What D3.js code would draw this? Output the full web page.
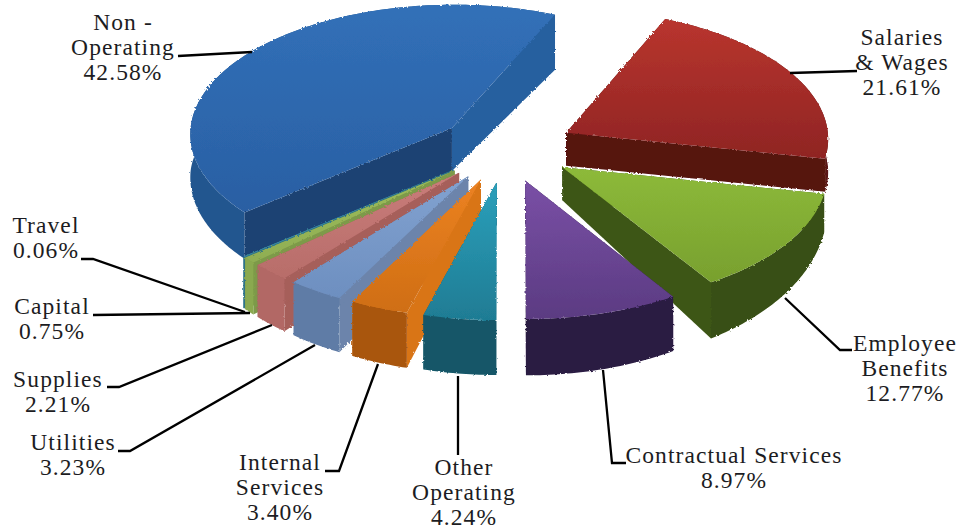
<!DOCTYPE html>
<html>
<head>
<meta charset="utf-8">
<script src="https://cdn.jsdelivr.net/npm/d3@7"></script>
<style>
    html, body { margin: 0; padding: 0; background: #fff; }
    svg { display: block; }
    text { font-family: "Liberation Serif", serif; font-size: 23.5px; letter-spacing: 1.1px; fill: #1c1c22; text-anchor: middle; }
</style>
</head>
<body>
<svg id="chart" width="960" height="529"></svg>
<script>
// Data, clockwise from the big blue slice
const categories = ["Non-Operating", "Salaries & Wages", "Employee Benefits", "Contractual Services", "Other Operating",
    "Internal Services", "Utilities", "Supplies", "Capital", "Travel"];
const values = [42.58, 21.61, 12.77, 8.97, 4.24, 3.40, 3.23, 2.21, 0.75, 0.06];
const valueLabels = ["42.58%", "21.61%", "12.77%", "8.97%", "4.24%", "3.40%", "3.23%", "2.21%", "0.75%", "0.06%"];
const labelLines = [["Non -", "Operating"], ["Salaries", "& Wages"], ["Employee", "Benefits"], ["Contractual Services"], ["Other", "Operating"],
    ["Internal", "Services"], ["Utilities"], ["Supplies"], ["Capital"], ["Travel"]];

// Slice colours: top face light/dark, outer wall, walls under the two radial edges
const topLight = ["#3170b8", "#b9352e", "#8dba3a", "#7a50a6", "#2ba0bb", "#ec8222", "#82a2d0", "#c97d7a", "#9dbd5c", "#4bacc6"];
const topDark = ["#2a5fa3", "#8f2423", "#78a02e", "#5b3b82", "#1f7c94", "#cf6e14", "#6d8fc0", "#b86d6a", "#8fae52", "#3c8ea6"];
const outerWall = ["#23578f", "#5a1413", "#384f13", "#2a1a42", "#125768", "#a9560e", "#5f7ba6", "#b26865", "#8aa94f", "#2f7488"];
const startWall = ["#1b4373", "#561211", "#3e5616", "#2a1a42", "#125768", "#d97517", "#6c84ab", "#a65e5a", "#7d9a48", "#2f7488"];
const endWall = ["#26609f", "#561211", "#3e5616", "#2a1a42", "#125768", "#d97517", "#6c84ab", "#a65e5a", "#7d9a48", "#2f7488"];

// Wall height per slice, the picture is not consistent about it
const wallBase = [43, 33, 29, 40, 40, 44, 44, 44, 44, 44];
const wallSlope = [0.02, 0, 0.104, 0.05, 0.045, 0.035, 0.035, 0.035, 0.035, 0.035];

// Layout of the hand placed labels: text centre, first baseline, leader polyline
const labelX = [123, 902, 905, 734, 464, 280, 73, 58, 52, 46];
const labelY = [30, 45, 351, 463, 475, 470, 450, 387, 314, 233];
const leaders = [
    [[178, 56], [252, 52]],
    [[857, 71], [790, 73]],
    [[852, 350], [840, 350], [785, 298]],
    [[626, 463], [612, 463], [603, 370]],
    [[458, 455], [458, 376]],
    [[325, 471], [339, 471], [378, 364]],
    [[118, 451], [130, 451], [315, 345]],
    [[107, 387], [119, 387], [272, 325]],
    [[93, 315], [250, 313]],
    [[81, 259], [93, 259], [245, 312]]
];

const width = 960;
const height = 529;

// Projection of the tilted disc
const cx = 506;
const cy = 148;
const radius = 263;
const explode = 68;
const tilt = 0.494;
const persp = 0.000156;

const svg = d3.select("#chart");
const defs = svg.append("defs");

// Rough serrated edge and slight softness of the scanned original
const rough = defs.append("filter").attr("id", "rough")
    .attr("x", 0).attr("y", 0)
    .attr("filterUnits", "userSpaceOnUse")
    .attr("width", width).attr("height", height);
rough.append("feTurbulence").attr("type", "fractalNoise").attr("baseFrequency", 0.45).attr("numOctaves", 1).attr("seed", 3).attr("result", "n");
rough.append("feDisplacementMap").attr("in", "SourceGraphic").attr("in2", "n").attr("scale", 3).attr("result", "d");
rough.append("feGaussianBlur").attr("in", "d").attr("stdDeviation", 0.4);

function project(u, v) {
    const f = 1 / (1 - persp * v);
    return [cx + u * f, cy + tilt * v * f];
}

// wall height grows towards the viewer; the blue slice also thickens at the far end
function depth(i, v) {
    if (i === 0 && v < -41) return wallBase[0] + 0.05 * (-41 - v);
    return wallBase[i] + wallSlope[i] * (i === 0 ? v + 41 : v);
}

const pie = d3.pie().sort(null).startAngle(-129.9 * Math.PI / 180).endAngle(230.1 * Math.PI / 180);
const slices = pie(values).map((d, i) => {
    const mid = (d.startAngle + d.endAngle) / 2;
    const ou = Math.sin(mid) * explode;
    const ov = -Math.cos(mid) * explode;
    const n = Math.max(2, Math.ceil((d.endAngle - d.startAngle) * 60));
    const arc = d3.range(n + 1).map(k => {
        const a = d.startAngle + (d.endAngle - d.startAngle) * k / n;
        return { u: ou + Math.sin(a) * radius, v: ov - Math.cos(a) * radius };
    });
    return { i, mid, apex: { u: ou, v: ov }, arc };
});

const line = d3.line();
const up = p => project(p.u, p.v);

function wall(i, points) {
    const lower = points.slice().reverse().map(p => {
        const q = project(p.u, p.v);
        return [q[0], q[1] + depth(i, p.v)];
    });
    return line(points.map(up).concat(lower)) + "Z";
}

// Back slices first so the nearer ones paint over them
slices.sort((a, b) => Math.cos(b.mid) - Math.cos(a.mid));

const g = svg.append("g").attr("filter", "url(#rough)");
slices.forEach(s => {
    const grad = defs.append("linearGradient")
        .attr("id", "top" + s.i)
        .attr("x1", 0).attr("y1", 0).attr("x2", 0).attr("y2", 1);
    grad.append("stop").attr("offset", "0%").attr("stop-color", topLight[s.i]);
    grad.append("stop").attr("offset", "100%").attr("stop-color", topDark[s.i]);

    const sg = g.append("g");
    // blue opens away from the viewer, its far wall has to sit over the arc wall
    if (s.i === 0) sg.append("path").attr("d", wall(s.i, s.arc)).attr("fill", outerWall[s.i]);
    sg.append("path").attr("d", wall(s.i, [s.apex, s.arc[0]])).attr("fill", startWall[s.i]);
    sg.append("path").attr("d", wall(s.i, [s.apex, s.arc[s.arc.length - 1]])).attr("fill", endWall[s.i]);
    if (s.i !== 0) sg.append("path").attr("d", wall(s.i, s.arc)).attr("fill", outerWall[s.i]);
    sg.append("path")
        .attr("d", line([s.apex].concat(s.arc).map(up)) + "Z")
        .attr("fill", "url(#top" + s.i + ")");
});

// Leader lines
svg.append("g").selectAll("path")
    .data(leaders)
    .join("path")
    .attr("d", d => line(d))
    .attr("fill", "none")
    .attr("stroke", "#000")
    .attr("stroke-width", 2.3);

// Labels
const lineStep = 25;
const labels = svg.append("g").selectAll("text")
    .data(categories)
    .join("text")
    .attr("aria-label", d => d)
    .attr("x", (d, i) => labelX[i])
    .attr("y", (d, i) => labelY[i]);

labels.each(function(d, i) {
    const rows = labelLines[i].concat(valueLabels[i]);
    d3.select(this).selectAll("tspan")
        .data(rows)
        .join("tspan")
        .attr("x", labelX[i])
        .attr("y", (r, k) => labelY[i] + k * lineStep)
        .text(r => r);
});
</script>
</body>
</html>
